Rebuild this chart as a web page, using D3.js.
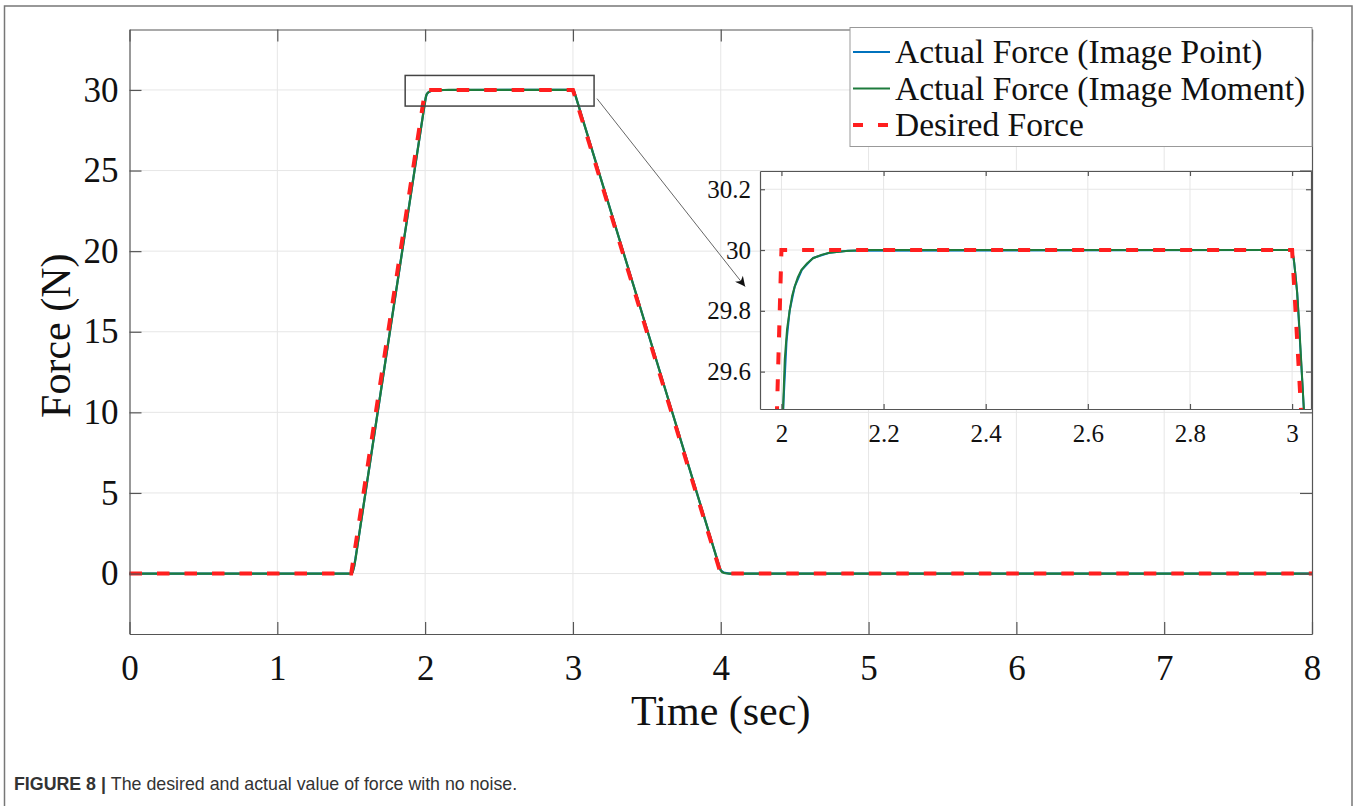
<!DOCTYPE html>
<html>
<head>
<meta charset="utf-8">
<script src="https://cdn.jsdelivr.net/npm/d3@7"></script>
<style>
  body { margin: 0; background: #fff; }
  svg { display: block; }
  .serif text, text.serif { font-family: 'Liberation Serif', 'Times New Roman', serif; }
</style>
</head>
<body>
<div id="chart"></div>
<script>
// values
const timeTicks = [0, 1, 2, 3, 4, 5, 6, 7, 8];
const forceTicks = [0, 5, 10, 15, 20, 25, 30];
const insetTimeTicks = [2, 2.2, 2.4, 2.6, 2.8, 3];
const insetForceTicks = [29.6, 29.8, 30, 30.2];
const seriesNames = ["Actual Force (Image Point)", "Actual Force (Image Moment)", "Desired Force"];

const desiredTime = [0, 1.5, 2, 3, 4, 8];
const desiredForce = [0, 0, 30, 30, 0, 0];

const momentTime = [0, 1.5, 1.51, 1.52, 1.53, 1.55, 1.75, 1.99, 2.0, 2.003, 2.0065, 2.011, 2.016, 2.021, 2.026, 2.032, 2.039, 2.05, 2.062, 2.078, 2.094, 2.127, 2.16, 3.0, 3.0033, 3.0065, 3.0098, 3.013, 3.0163, 3.023, 3.03, 3.5, 3.99, 4.0, 4.01, 4.03, 4.06, 8];
const momentForce = [0, 0, 0.1, 0.45, 0.95, 2.2, 14.3, 28.7, 29.28, 29.47, 29.64, 29.74, 29.8, 29.85, 29.88, 29.91, 29.934, 29.956, 29.973, 29.984, 29.991, 29.997, 30, 30, 29.97, 29.92, 29.86, 29.78, 29.68, 29.477, 29.26, 15.17, 0.45, 0.2, 0.08, 0.02, 0, 0];

const pointTime = [0, 1.5, 1.51, 1.52, 1.55, 1.75, 1.99, 2.0, 2.004, 2.01, 2.016, 2.026, 2.04, 2.062, 2.094, 2.13, 3.0, 3.004, 3.01, 3.016, 3.023, 3.5, 3.99, 4.0, 4.02, 4.06, 8];
const pointForce = [0, 0, 0.1, 0.45, 2.2, 14.3, 28.72, 29.3, 29.5, 29.7, 29.8, 29.88, 29.935, 29.974, 29.991, 29.998, 30, 29.96, 29.86, 29.68, 29.477, 15.17, 0.45, 0.2, 0.06, 0, 0];

const zoomBoxTime = [1.865, 3.143];
const zoomBoxForce = [29.0, 30.9];
const arrowFrom = [3.163, 29.46];
const arrowTo = [4.165, 17.8];

const width = 1359, height = 806;
const plot = { left: 129.5, right: 1312, top: 29.5, bottom: 634 };
const inset = { left: 760, right: 1311, top: 171, bottom: 409 };

const serif = "'Liberation Serif', 'Times New Roman', serif";
const colors = ["#0072bd", "#1e7b3c", "#ff1f1f"];
const axisColor = "#555";
const gridColor = "#e6e6e6";
const fmt = d3.format("~g");

const svg = d3.select("#chart").append("svg")
    .attr("width", width)
    .attr("height", height);

// outer figure frame
svg.append("rect")
    .attr("x", 4.5).attr("y", 6)
    .attr("width", 1347.5).attr("height", 840)
    .attr("fill", "none").attr("stroke", "#777").attr("stroke-width", 1.5);

const x = d3.scaleLinear().domain([0, 8]).range([plot.left, plot.right]);
const y = d3.scaleLinear().domain([-3.75, 33.75]).range([plot.bottom, plot.top]);

// grid
svg.append("g")
    .selectAll("line")
    .data(timeTicks.slice(1, -1))
    .join("line")
    .attr("x1", d => x(d)).attr("x2", d => x(d))
    .attr("y1", plot.top).attr("y2", plot.bottom)
    .attr("stroke", gridColor);

svg.append("g")
    .selectAll("line")
    .data(forceTicks)
    .join("line")
    .attr("x1", plot.left).attr("x2", plot.right)
    .attr("y1", d => y(d)).attr("y2", d => y(d))
    .attr("stroke", gridColor);

const line = (xs, ys) => d3.line().x(d => xs(d[0])).y(d => ys(d[1]));

// main series
const mainLines = svg.append("g");
mainLines.append("path")
    .attr("d", line(x, y)(d3.zip(pointTime, pointForce)))
    .attr("fill", "none").attr("stroke", colors[0]).attr("stroke-width", 2.2);
mainLines.append("path")
    .attr("d", line(x, y)(d3.zip(momentTime, momentForce)))
    .attr("fill", "none").attr("stroke", colors[1]).attr("stroke-width", 2.2);
mainLines.append("path")
    .attr("d", line(x, y)(d3.zip(desiredTime, desiredForce)))
    .attr("fill", "none").attr("stroke", colors[2]).attr("stroke-width", 4)
    .attr("stroke-dasharray", "12.5,15");

// axes with inward ticks on all four sides
function styleAxis(size) {
    return g => {
        g.attr("class", "serif").attr("font-family", serif).attr("font-size", size);
        g.selectAll(".domain").attr("stroke", axisColor).attr("stroke-width", 1.2);
        g.selectAll(".tick line").attr("stroke", axisColor).attr("stroke-width", 1.2);
        g.selectAll(".tick text").attr("fill", "#111")
            .style("font-family", serif).style("font-size", size + "px");
    };
}

svg.append("g")
    .attr("transform", `translate(0,${plot.bottom})`)
    .call(d3.axisBottom(x).tickValues(timeTicks).tickFormat(fmt).tickSizeInner(-12).tickSizeOuter(0).tickPadding(21))
    .call(styleAxis(35));

svg.append("g")
    .attr("transform", `translate(0,${plot.top})`)
    .call(d3.axisTop(x).tickValues(timeTicks).tickSizeInner(-12).tickSizeOuter(0).tickFormat(""))
    .call(styleAxis(35));

svg.append("g")
    .attr("transform", `translate(${plot.left},0)`)
    .call(d3.axisLeft(y).tickValues(forceTicks).tickFormat(fmt).tickSizeInner(-12).tickSizeOuter(0).tickPadding(11))
    .call(styleAxis(35));

svg.append("g")
    .attr("transform", `translate(${plot.right},0)`)
    .call(d3.axisRight(y).tickValues(forceTicks).tickSizeInner(-12).tickSizeOuter(0).tickFormat(""))
    .call(styleAxis(35));

// axis titles
svg.append("text")
    .attr("class", "serif")
    .attr("x", (plot.left + plot.right) / 2).attr("y", 725)
    .attr("text-anchor", "middle")
    .attr("font-family", serif).attr("font-size", 42).attr("fill", "#111")
    .text("Time (sec)");

svg.append("text")
    .attr("class", "serif")
    .attr("transform", `translate(70,${(plot.top + plot.bottom) / 2 + 4}) rotate(-90)`)
    .attr("text-anchor", "middle")
    .attr("font-family", serif).attr("font-size", 42).attr("fill", "#111")
    .text("Force (N)");

// zoom box and arrow
svg.append("rect")
    .attr("x", x(zoomBoxTime[0])).attr("y", y(zoomBoxForce[1]))
    .attr("width", x(zoomBoxTime[1]) - x(zoomBoxTime[0]))
    .attr("height", y(zoomBoxForce[0]) - y(zoomBoxForce[1]))
    .attr("fill", "none").attr("stroke", "#444").attr("stroke-width", 1.5);

svg.append("defs").append("marker")
    .attr("id", "head")
    .attr("viewBox", "0 0 10 10")
    .attr("refX", 10).attr("refY", 5)
    .attr("markerWidth", 15).attr("markerHeight", 10)
    .attr("markerUnits", "userSpaceOnUse")
    .attr("orient", "auto")
    .append("path")
    .attr("d", "M0,0 L10,5 L0,10 L3,5 Z")
    .attr("fill", "#111");

svg.append("line")
    .attr("x1", x(arrowFrom[0])).attr("y1", y(arrowFrom[1]))
    .attr("x2", x(arrowTo[0])).attr("y2", y(arrowTo[1]))
    .attr("stroke", "#666").attr("stroke-width", 1)
    .attr("marker-end", "url(#head)");

// legend
const legend = svg.append("g");
legend.append("rect")
    .attr("x", 850).attr("y", 27.5)
    .attr("width", 462).attr("height", 119)
    .attr("fill", "#fff").attr("stroke", "#999").attr("stroke-width", 1);

const rowY = [52, 88.5, 125];
seriesNames.forEach((name, i) => {
    legend.append("line")
        .attr("x1", 853).attr("x2", 890)
        .attr("y1", rowY[i]).attr("y2", rowY[i])
        .attr("stroke", colors[i])
        .attr("stroke-width", i === 2 ? 4 : 2)
        .attr("stroke-dasharray", i === 2 ? "10,15" : null);
    legend.append("text")
        .attr("class", "serif")
        .attr("x", 895).attr("y", rowY[i]).attr("dy", "0.33em")
        .attr("font-family", serif).attr("font-size", 33.5).attr("fill", "#111")
        .text(name);
});

// inset
const xi = d3.scaleLinear().domain([1.958, 3.037]).range([inset.left, inset.right]);
const yi = d3.scaleLinear().domain([29.477, 30.26]).range([inset.bottom, inset.top]);

const ins = svg.append("g");
ins.append("rect")
    .attr("x", inset.left).attr("y", inset.top)
    .attr("width", inset.right - inset.left).attr("height", inset.bottom - inset.top)
    .attr("fill", "#fff");

ins.append("clipPath").attr("id", "insetClip")
    .append("rect")
    .attr("x", inset.left).attr("y", inset.top)
    .attr("width", inset.right - inset.left).attr("height", inset.bottom - inset.top);

ins.append("g")
    .selectAll("line")
    .data(insetTimeTicks)
    .join("line")
    .attr("x1", d => xi(d)).attr("x2", d => xi(d))
    .attr("y1", inset.top).attr("y2", inset.bottom)
    .attr("stroke", gridColor);

ins.append("g")
    .selectAll("line")
    .data(insetForceTicks)
    .join("line")
    .attr("x1", inset.left).attr("x2", inset.right)
    .attr("y1", d => yi(d)).attr("y2", d => yi(d))
    .attr("stroke", gridColor);

const insLines = ins.append("g").attr("clip-path", "url(#insetClip)");
insLines.append("path")
    .attr("d", line(xi, yi)(d3.zip(pointTime, pointForce)))
    .attr("fill", "none").attr("stroke", colors[0]).attr("stroke-width", 2);
insLines.append("path")
    .attr("d", line(xi, yi)(d3.zip(momentTime, momentForce)))
    .attr("fill", "none").attr("stroke", colors[1]).attr("stroke-width", 2);
insLines.append("path")
    .attr("d", line(xi, yi)(d3.zip(desiredTime, desiredForce)))
    .attr("fill", "none").attr("stroke", colors[2]).attr("stroke-width", 4)
    .attr("stroke-dasharray", "12,15");

ins.append("g")
    .attr("transform", `translate(0,${inset.bottom})`)
    .call(d3.axisBottom(xi).tickValues(insetTimeTicks).tickFormat(fmt).tickSizeInner(-5).tickSizeOuter(0).tickPadding(15))
    .call(styleAxis(25));

ins.append("g")
    .attr("transform", `translate(0,${inset.top})`)
    .call(d3.axisTop(xi).tickValues(insetTimeTicks).tickSizeInner(-5).tickSizeOuter(0).tickFormat(""))
    .call(styleAxis(25));

ins.append("g")
    .attr("transform", `translate(${inset.left},0)`)
    .call(d3.axisLeft(yi).tickValues(insetForceTicks).tickFormat(fmt).tickSizeInner(-5).tickSizeOuter(0).tickPadding(9))
    .call(styleAxis(25));

ins.append("g")
    .attr("transform", `translate(${inset.right},0)`)
    .call(d3.axisRight(yi).tickValues(insetForceTicks).tickSizeInner(-5).tickSizeOuter(0).tickFormat(""))
    .call(styleAxis(25));

// caption
const caption = svg.append("text")
    .attr("x", 14).attr("y", 790)
    .attr("font-family", "'Liberation Sans', Arial, sans-serif")
    .attr("font-size", 17.8).attr("fill", "#333");
caption.append("tspan").attr("font-weight", "bold").text("FIGURE 8 | ");
caption.append("tspan").text("The desired and actual value of force with no noise.");
</script>
</body>
</html>
